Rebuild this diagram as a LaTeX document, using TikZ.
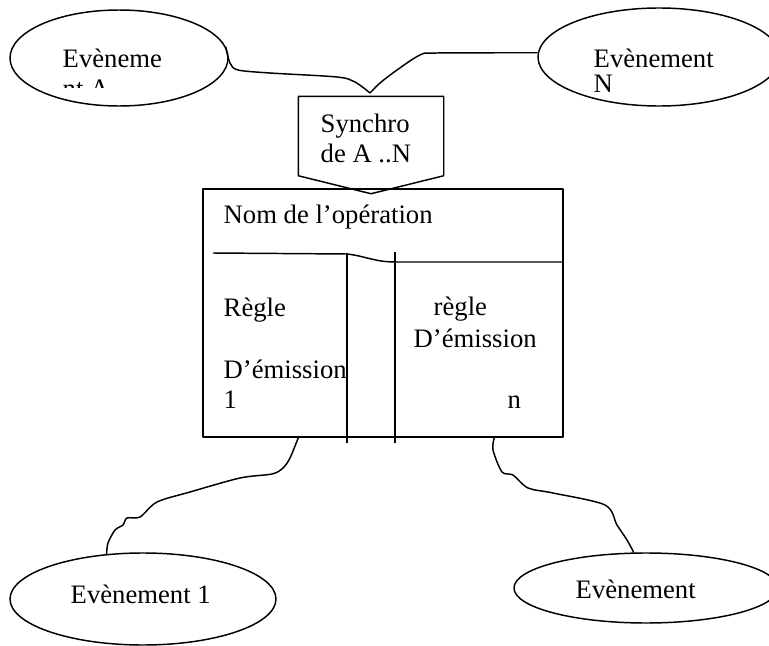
\documentclass[tikz,border=0pt]{standalone}
\usepackage{fontspec}
\setmainfont{Liberation Serif}
\usetikzlibrary{shapes.geometric,calc}
\begin{document}
\begin{tikzpicture}[x=0.75pt,y=-0.75pt,line width=1.1pt,line join=round,
  ev/.style={draw,ellipse,inner sep=0pt},
  lbl/.style={anchor=base west,inner sep=0pt,font=\fontsize{20pt}{24pt}\selectfont},
  wire/.style={line width=1.1pt}]
\useasboundingbox (0,0) rectangle (769,646);
% events
\node[ev,minimum width=163.5pt,minimum height=72pt] (evA) at (119,58) {};
\node[ev,minimum width=181.5pt,minimum height=73.5pt] (evN) at (659,57) {};
\node[ev,minimum width=199.5pt,minimum height=69pt] (ev1) at (143,599) {};
\node[ev,minimum width=198pt,minimum height=52.5pt] (evn) at (646,588) {};
\node[lbl] (tA1) at (62,67) {Evèneme};
\begin{scope}
\clip (0,0) rectangle (769,87);
\node[lbl] (tA2) at (62,97) {nt A};
\end{scope}
\node[lbl] (tN1) at (593,67) {Evènement};
\node[lbl] (tN2) at (593,92) {N};
\node[lbl] (t1) at (70,603) {Evènement 1};
\node[lbl] (tn) at (575,598) {Evènement};
% synchro
\node[minimum width=108pt,minimum height=58.5pt,inner sep=0pt] (syn) at (371,136) {};
\draw (syn.north west) -- (syn.north east) -- (syn.south east) -- ($(syn.south)+(0,18)$) -- (syn.south west) -- cycle;
\node[lbl] (s1) at (320,132) {Synchro};
\node[lbl] (s2) at (320,162) {de A ..N};
% operation
\node[draw,minimum width=270pt,minimum height=186pt,inner sep=0pt] (op) at (383,313) {};
\draw (213,253) -- (347,254) .. controls (365,256) and (375,262) .. (395,262) -- (op.east |- 0,262);
\draw (347,253) -- (347,443);
\draw (395,252) -- (395,443);
\node[lbl] (nom) at (223,223) {Nom de l’opération};
\node[lbl] (r1) at (223,316) {Règle};
\node[lbl] (r2) at (223,378) {D’émission};
\node[lbl] (r3) at (223,408) {1};
\node[lbl] (q1) at (433,315) {règle};
\node[lbl] (q2) at (413,347) {D’émission};
\node[lbl] (q3) at (507,408) {n};
% connectors
\draw[wire] plot[smooth,tension=0.5] coordinates {(evA.6) (230,63) (238,70) (270,73) (337,77) (355,82) (370,93)};
\draw[wire] plot[smooth,tension=0.5] coordinates {(370,93) (380,83) (397,70) (420,55) (437,53) (evN.178)};
\draw[wire] plot[smooth,tension=0.5] coordinates {($(op.south west)+(96,0)$) (290,458) (283,468) (272,474) (240,478) (190,492) (157,502) (140,517) (127,518) (123,525) (115,530) (108,543) (ev1.129)};
\draw[wire] plot[smooth,tension=0.5] coordinates {($(op.south west)+(292,0)$) (493,450) (502,472) (513,475) (528,488) (553,493) (605,505) (617,525) (627,540) (evn.109)};
\end{tikzpicture}
\end{document}
